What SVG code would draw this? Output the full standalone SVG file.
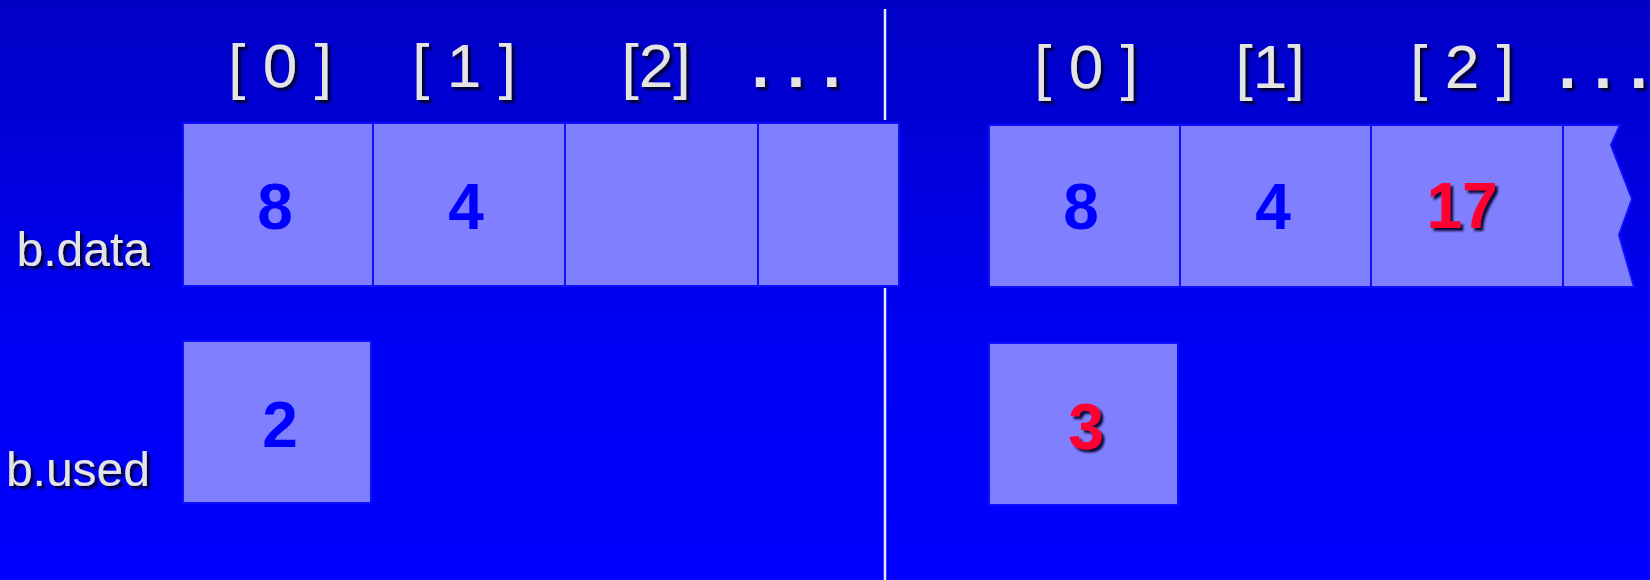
<svg xmlns="http://www.w3.org/2000/svg" width="1650" height="580" viewBox="0 0 1650 580">
  <defs>
    <linearGradient id="bg" x1="0" y1="0" x2="0" y2="1">
      <stop offset="0" stop-color="#0000c4"/>
      <stop offset="0.55" stop-color="#0000f2"/>
      <stop offset="1" stop-color="#0000ff"/>
    </linearGradient>
    <filter id="sh" x="-20%" y="-20%" width="140%" height="140%">
      <feDropShadow dx="3" dy="3" stdDeviation="1.2" flood-color="#000022" flood-opacity="0.9"/>
    </filter>
    <style>
      .lbl { font-family: "Liberation Sans", Arial, sans-serif; fill: #e4e4e4; filter: url(#sh); }
      .idx { font-size: 62px; text-anchor: middle; }
      .dots { font-weight: bold; font-size: 64px; }
      .var { font-size: 48px; text-anchor: end; }
      .cell { fill: #8080ff; stroke: #0f0fff; stroke-width: 2; }
      .num { font-family: "Liberation Sans", Arial, sans-serif; font-weight: bold; font-size: 64px; text-anchor: middle; fill: #0000ff; }
      .new { fill: #ff0033; filter: url(#sh); }
      .div { stroke: #e8e8ff; stroke-width: 2.5; }
    </style>
  </defs>
  <rect x="0" y="0" width="1650" height="580" fill="url(#bg)"/>

  <g id="divider">
    <line class="div" x1="885" y1="9" x2="885" y2="120"/>
    <line class="div" x1="885" y1="288" x2="885" y2="580"/>
  </g>

  <g id="labels-left">
    <text class="lbl idx" x="280" y="87">[ 0 ]</text>
    <text class="lbl idx" x="464" y="87">[ 1 ]</text>
    <text class="lbl idx" x="656" y="87">[2]</text>
    <text class="lbl idx dots" x="796" y="87">. . .</text>
    <text class="lbl var" x="150" y="266">b.data</text>
    <text class="lbl var" x="150" y="486">b.used</text>
  </g>

  <g id="labels-right">
    <text class="lbl idx" x="1086" y="88">[ 0 ]</text>
    <text class="lbl idx" x="1270" y="88">[1]</text>
    <text class="lbl idx" x="1462" y="88">[ 2 ]</text>
    <text class="lbl idx dots" x="1603" y="88">. . .</text>
  </g>

  <g id="data-before">
    <rect class="cell" x="183" y="123" width="190" height="163"/>
    <rect class="cell" x="373" y="123" width="192" height="163"/>
    <rect class="cell" x="565" y="123" width="193" height="163"/>
    <rect class="cell" x="758" y="123" width="141" height="163"/>
    <text class="num" x="275" y="229">8</text>
    <text class="num" x="466" y="229">4</text>
  </g>

  <g id="used-before">
    <rect class="cell" x="183" y="341" width="188" height="162"/>
    <text class="num" x="280" y="447">2</text>
  </g>

  <g id="data-after">
    <rect class="cell" x="989" y="125" width="191" height="162"/>
    <rect class="cell" x="1180" y="125" width="191" height="162"/>
    <rect class="cell" x="1371" y="125" width="192" height="162"/>
    <polygon class="cell" points="1563,125 1620,125 1611,145 1632,199 1619,235 1634,287 1563,287"/>
    <text class="num" x="1081" y="229">8</text>
    <text class="num" x="1273" y="229">4</text>
    <text class="num new" x="1462" y="228">17</text>
  </g>

  <g id="used-after">
    <rect class="cell" x="989" y="343" width="189" height="162"/>
    <text class="num new" x="1086" y="449">3</text>
  </g>

  <g id="connectors"></g>
</svg>
